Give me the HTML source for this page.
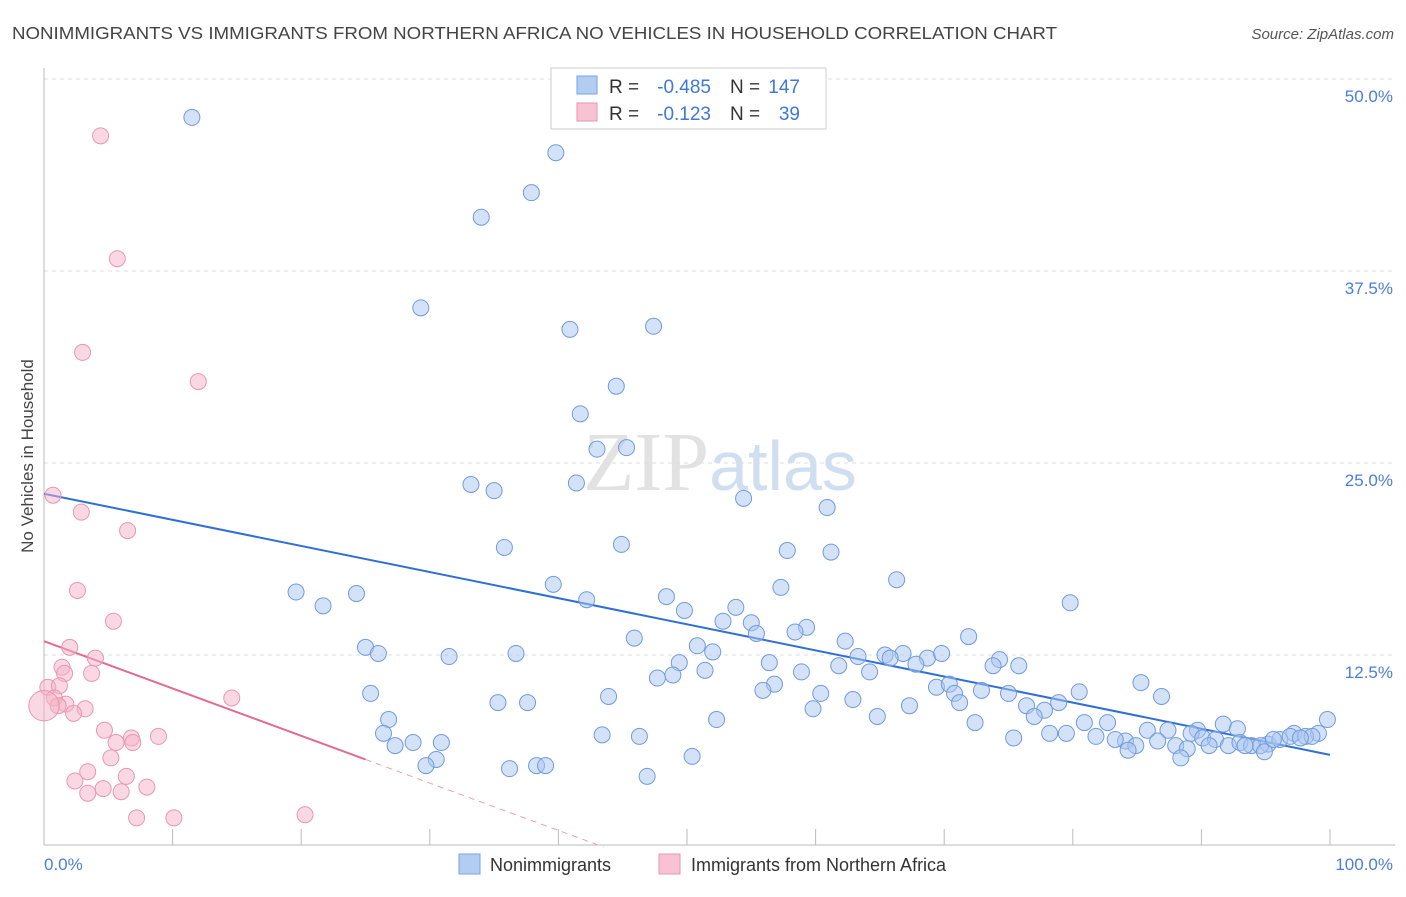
<!DOCTYPE html>
<html><head><meta charset="utf-8"><style>
body{margin:0;background:#fff;font-family:"Liberation Sans",sans-serif;}
svg text{font-family:"Liberation Sans",sans-serif;}
</style></head><body>
<svg id="chart" width="1406" height="892" xmlns="http://www.w3.org/2000/svg">
<text x="12" y="39" font-size="17.5" fill="#444" textLength="1045" lengthAdjust="spacingAndGlyphs">NONIMMIGRANTS VS IMMIGRANTS FROM NORTHERN AFRICA NO VEHICLES IN HOUSEHOLD CORRELATION CHART</text>
<text x="1394" y="39" font-size="15" fill="#555" font-style="italic" text-anchor="end">Source: ZipAtlas.com</text>
<text x="720" y="490" font-size="84" text-anchor="middle" fill="#dcdcdc" opacity="0.8"><tspan font-family="Liberation Serif,serif">ZIP</tspan><tspan fill="#c5d7ef" font-size="70">atlas</tspan></text>
<g id="grid"></g>
<g id="axes"></g>
<g id="lines"></g>
<g id="pts"></g>
<text transform="translate(33,456) rotate(-90)" font-size="17" fill="#444" text-anchor="middle">No Vehicles in Household</text>
<text x="44" y="870" font-size="17" fill="#4a7fd8">0.0%</text>
<text x="1393" y="870" font-size="17" fill="#4a7fd8" text-anchor="end">100.0%</text>
<g>
<rect x="551" y="68" width="275" height="61" fill="#fff" stroke="#ccc"/>
<rect x="577" y="76" width="20" height="18" fill="#b3cdf2" stroke="#7aa3e3"/>
<rect x="577" y="103" width="20" height="18" fill="#f8c2d3" stroke="#e995b0"/>
<text x="609" y="93" font-size="19" fill="#333">R =</text>
<text x="711" y="93" font-size="19" fill="#3f78d8" text-anchor="end">-0.485</text>
<text x="730" y="93" font-size="19" fill="#333">N =</text>
<text x="800" y="93" font-size="19" fill="#3f78d8" text-anchor="end">147</text>
<text x="609" y="120" font-size="19" fill="#333">R =</text>
<text x="711" y="120" font-size="19" fill="#3f78d8" text-anchor="end">-0.123</text>
<text x="730" y="120" font-size="19" fill="#333">N =</text>
<text x="800" y="120" font-size="19" fill="#3f78d8" text-anchor="end">39</text>
</g>
<g>
<rect x="459" y="854" width="21" height="20" fill="#b3cdf2" stroke="#7aa3e3"/>
<text x="490" y="871" font-size="18" fill="#333">Nonimmigrants</text>
<rect x="659" y="854" width="21" height="20" fill="#f8c2d3" stroke="#e995b0"/>
<text x="691" y="871" font-size="18" fill="#333">Immigrants from Northern Africa</text>
</g>
</svg>
<script>
const yTicks=[12.5,25,37.5,50];
const yTickLabels=["12.5%","25.0%","37.5%","50.0%"];
const xTicks=[10,20,30,40,50,60,70,80,90,100];
const blueX=[11.5,39.8,37.9,34.0,29.3,40.9,47.4,44.5,41.7,43.0,45.3,33.2,35.0,41.4,54.4,60.9,35.8,44.9,57.8,61.2,66.3,39.6,57.3,19.6,24.3,21.7,42.2,48.4,49.8,53.8,79.8,52.8,55.0,59.3,58.4,55.4,45.9,50.8,52.0,25.0,26.0,31.5,36.7,62.3,63.3,65.4,66.8,65.8,68.7,69.8,71.9,74.3,75.8,49.4,56.4,61.8,64.2,67.8,73.8,47.7,48.9,51.4,58.9,85.3,25.4,43.9,56.8,55.9,60.4,62.9,69.4,70.4,70.8,72.9,75.0,80.5,86.9,35.3,37.6,59.8,64.8,67.3,71.2,76.4,78.9,77.8,77.0,26.8,26.4,52.3,72.4,80.9,82.7,81.8,84.1,85.8,87.4,89.7,91.7,92.8,97.2,99.1,99.8,43.4,46.3,75.4,78.2,79.5,83.3,84.9,86.6,88.0,89.2,90.1,91.1,92.1,93.0,93.9,95.2,96.1,96.9,98.1,98.6,94.6,27.3,28.7,30.9,84.3,88.9,90.6,94.9,88.4,30.5,29.7,38.3,39.0,36.2,50.4,46.9,93.4,97.7,95.6];
const blueY=[47.5,45.2,42.6,41.0,35.1,33.7,33.9,30.0,28.2,25.9,26.0,23.6,23.2,23.7,22.7,22.1,19.5,19.7,19.3,19.2,17.4,17.1,16.9,16.6,16.5,15.7,16.1,16.3,15.4,15.6,15.9,14.7,14.6,14.3,14.0,13.9,13.6,13.1,12.7,13.0,12.6,12.4,12.6,13.4,12.4,12.5,12.6,12.3,12.3,12.6,13.7,12.2,11.8,12.0,12.0,11.8,11.4,11.9,11.8,11.0,11.2,11.5,11.4,10.7,10.0,9.8,10.6,10.2,10.0,9.6,10.4,10.6,10.0,10.2,10.0,10.1,9.8,9.4,9.4,9.0,8.5,9.2,9.4,9.2,9.4,8.9,8.5,8.3,7.4,8.3,8.1,8.1,8.1,7.2,6.9,7.6,7.6,7.6,8.0,7.7,7.4,7.4,8.3,7.3,7.2,7.1,7.4,7.4,7.0,6.6,6.9,6.6,7.4,7.1,7.0,6.6,6.8,6.6,6.7,7.0,7.2,7.2,7.2,6.6,6.6,6.8,6.8,6.3,6.4,6.6,6.2,5.8,5.7,5.3,5.3,5.3,5.1,5.9,4.6,6.6,7.1,7.0];
const pinkX=[4.4,5.7,3.0,12.0,0.7,2.9,6.5,2.6,5.4,2.0,4.0,1.4,3.7,1.6,0.3,1.2,0.8,1.7,1.1,3.2,2.3,14.6,4.7,6.8,8.9,6.9,5.6,5.2,3.4,6.4,2.4,8.0,4.6,3.4,6.0,7.2,10.1,20.3,0];
const pinkY=[46.3,38.3,32.2,30.3,22.9,21.8,20.6,16.7,14.7,13.0,12.3,11.7,11.3,11.3,10.4,10.5,9.7,9.3,9.2,9.0,8.7,9.7,7.6,7.1,7.2,6.8,6.8,5.8,4.9,4.6,4.3,3.9,3.8,3.5,3.6,1.9,1.9,2.1,9.2];
const pinkSize=[1,1,1,1,1,1,1,1,1,1,1,1,1,1,1,1,1,1,1,1,1,1,1,1,1,1,1,1,1,1,1,1,1,1,1,1,1,1,1.9];
const blueTrend=[23.0,6.0];
const pinkTrend=[13.4,5.7,25];
const X0=44,X1=1330,Y0=847,PXPERPCT=15.36;
const sx=v=>X0+(X1-X0)*v/100;
const sy=v=>Y0-v*PXPERPCT;
const NS="http://www.w3.org/2000/svg";
function mk(tag,attrs,parent){const e=document.createElementNS(NS,tag);for(const k in attrs)e.setAttribute(k,attrs[k]);parent.appendChild(e);return e;}
const grid=document.getElementById('grid'),axes=document.getElementById('axes'),lines=document.getElementById('lines'),pts=document.getElementById('pts');
yTicks.forEach((t,i)=>{
 const l=mk('line',{x1:44,x2:1395,y1:sy(t),y2:sy(t),stroke:'#ddd','stroke-dasharray':'4,4'},grid);
 
 
 const tx=mk('text',{x:1393,y:sy(t)+23,'font-size':17,fill:'#4a7fd8','text-anchor':'end'},grid);
 tx.textContent=yTickLabels[i];
 
 
});
const ya=mk('line',{x1:44,x2:44,y1:68,y2:845,stroke:'#bbb'},axes);


const xa=mk('line',{x1:44,x2:1395,y1:845,y2:845,stroke:'#bbb'},axes);


xTicks.forEach(t=>{
 const l=mk('line',{x1:sx(t),x2:sx(t),y1:829,y2:845,stroke:'#bbb'},axes);
 
 
});
pinkX.forEach((x,i)=>{
 const c=mk('circle',{cx:sx(x),cy:sy(pinkY[i]),r:8*pinkSize[i],fill:'rgba(245,178,200,0.5)',stroke:'#e897b2','stroke-width':1},pts);
 
 
});
blueX.forEach((x,i)=>{
 const c=mk('circle',{cx:sx(x),cy:sy(blueY[i]),r:8,fill:'rgba(169,198,239,0.5)',stroke:'#6f9be0','stroke-width':1},pts);
 
 
});
const bt=mk('line',{x1:sx(0),y1:sy(blueTrend[0]),x2:sx(100),y2:sy(blueTrend[1]),stroke:'#2f6fd6','stroke-width':2},lines);


const slope=(pinkTrend[1]-pinkTrend[0])/pinkTrend[2];
const zeroX=-pinkTrend[0]/slope;
const pt=mk('line',{x1:sx(0),y1:sy(pinkTrend[0]),x2:sx(pinkTrend[2]),y2:sy(pinkTrend[1]),stroke:'#e56a93','stroke-width':2},lines);


const pd=mk('line',{x1:sx(pinkTrend[2]),y1:sy(pinkTrend[1]),x2:sx(zeroX),y2:sy(0),stroke:'#e9a0b8','stroke-width':1,'stroke-dasharray':'6,5'},lines);


</script>
</body></html>
